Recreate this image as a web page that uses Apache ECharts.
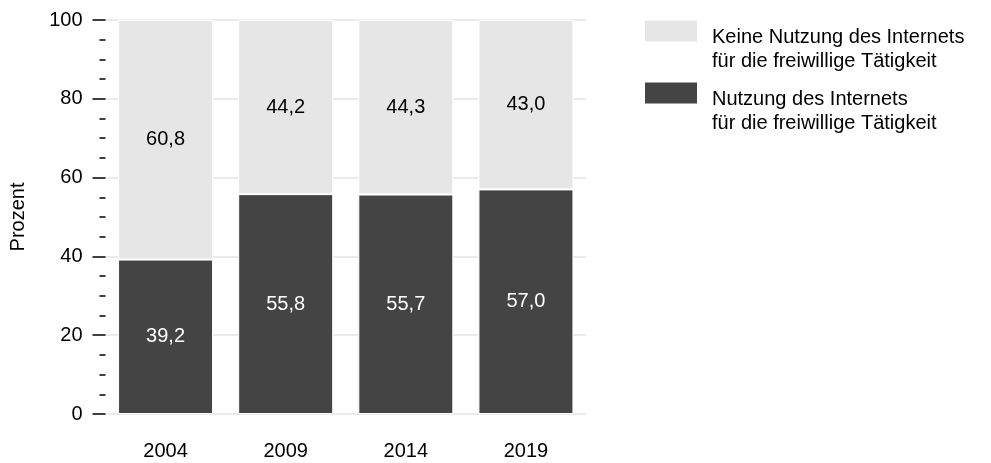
<!DOCTYPE html>
<html><head><meta charset="utf-8">
<script src="https://cdn.jsdelivr.net/npm/echarts@6/dist/echarts.min.js"></script>
<style>html,body{margin:0;padding:0;background:#fff}#c{width:991px;height:463px}</style>
</head><body><div id="c"></div>
<script>
const categories = ['2004', '2009', '2014', '2019'];
const usage = [39.2, 55.8, 55.7, 57.0];
const noUsage = [60.8, 44.2, 44.3, 43.0];
const seriesNames = ['Keine Nutzung des Internets\nfür die freiwillige Tätigkeit', 'Nutzung des Internets\nfür die freiwillige Tätigkeit'];
const yTicks = [0, 20, 40, 60, 80, 100];

const fmt = v => v.toFixed(1).replace('.', ',');
const font = 'Liberation Sans, Arial, sans-serif';
const legendBase = {
  left: 643, orient: 'vertical', padding: 0,
  itemWidth: 54, itemHeight: 23, icon: 'rect',
  formatter: name => '{s| }\n' + name.split('\n').map(l => '{t|' + l + '}').join('\n'),
  textStyle: {
    fontSize: 20, color: '#000', fontFamily: font,
    rich: {
      s: {fontSize: 10, lineHeight: 37},
      t: {fontSize: 20, lineHeight: 24, color: '#000', fontFamily: font, padding: [0, 0, 0, 9]}
    }
  },
  selectedMode: false
};
const chart = echarts.init(document.getElementById('c'), null, {renderer: 'canvas'});
chart.setOption({
  animation: false,
  textStyle: {fontFamily: font},
  legend: [
    Object.assign({}, legendBase, {top: 2, data: [seriesNames[0]]}),
    Object.assign({}, legendBase, {top: 64, data: [seriesNames[1]]})
  ],
  grid: {left: 105.5, width: 480.5, top: 20, bottom: 49, containLabel: false},
  xAxis: {
    type: 'category', data: categories,
    axisLine: {show: false}, axisTick: {show: false},
    axisLabel: {fontSize: 20, color: '#000', margin: 27, fontFamily: font}
  },
  yAxis: {
    type: 'value', min: yTicks[0], max: yTicks[yTicks.length - 1], interval: 20,
    name: 'Prozent', nameLocation: 'middle', nameGap: 77,
    nameTextStyle: {fontSize: 20, color: '#000', fontFamily: font},
    axisLine: {show: false},
    axisTick: {show: true, length: 13, lineStyle: {color: '#000', width: 1.5}},
    minorTick: {show: true, splitNumber: 4, length: 6, lineStyle: {color: '#000', width: 1.5}},
    axisLabel: {fontSize: 20, color: '#000', margin: 23, fontFamily: font},
    splitLine: {show: true, lineStyle: {color: '#ebebeb', width: 2}}
  },
  series: [
    {
      name: seriesNames[1], type: 'bar', stack: 's', data: usage, barWidth: 95,
      itemStyle: {color: '#444444', borderColor: '#fff', borderWidth: 1},
      label: {show: true, position: 'inside', color: '#fff', fontSize: 20, formatter: p => fmt(p.value), fontFamily: font}
    },
    {
      name: seriesNames[0], type: 'bar', stack: 's', data: noUsage, barWidth: 95,
      itemStyle: {color: '#e6e6e6', borderColor: '#fff', borderWidth: 1},
      label: {show: true, position: 'inside', color: '#000', fontSize: 20, formatter: p => fmt(p.value), fontFamily: font}
    }
  ]
});
</script></body></html>
